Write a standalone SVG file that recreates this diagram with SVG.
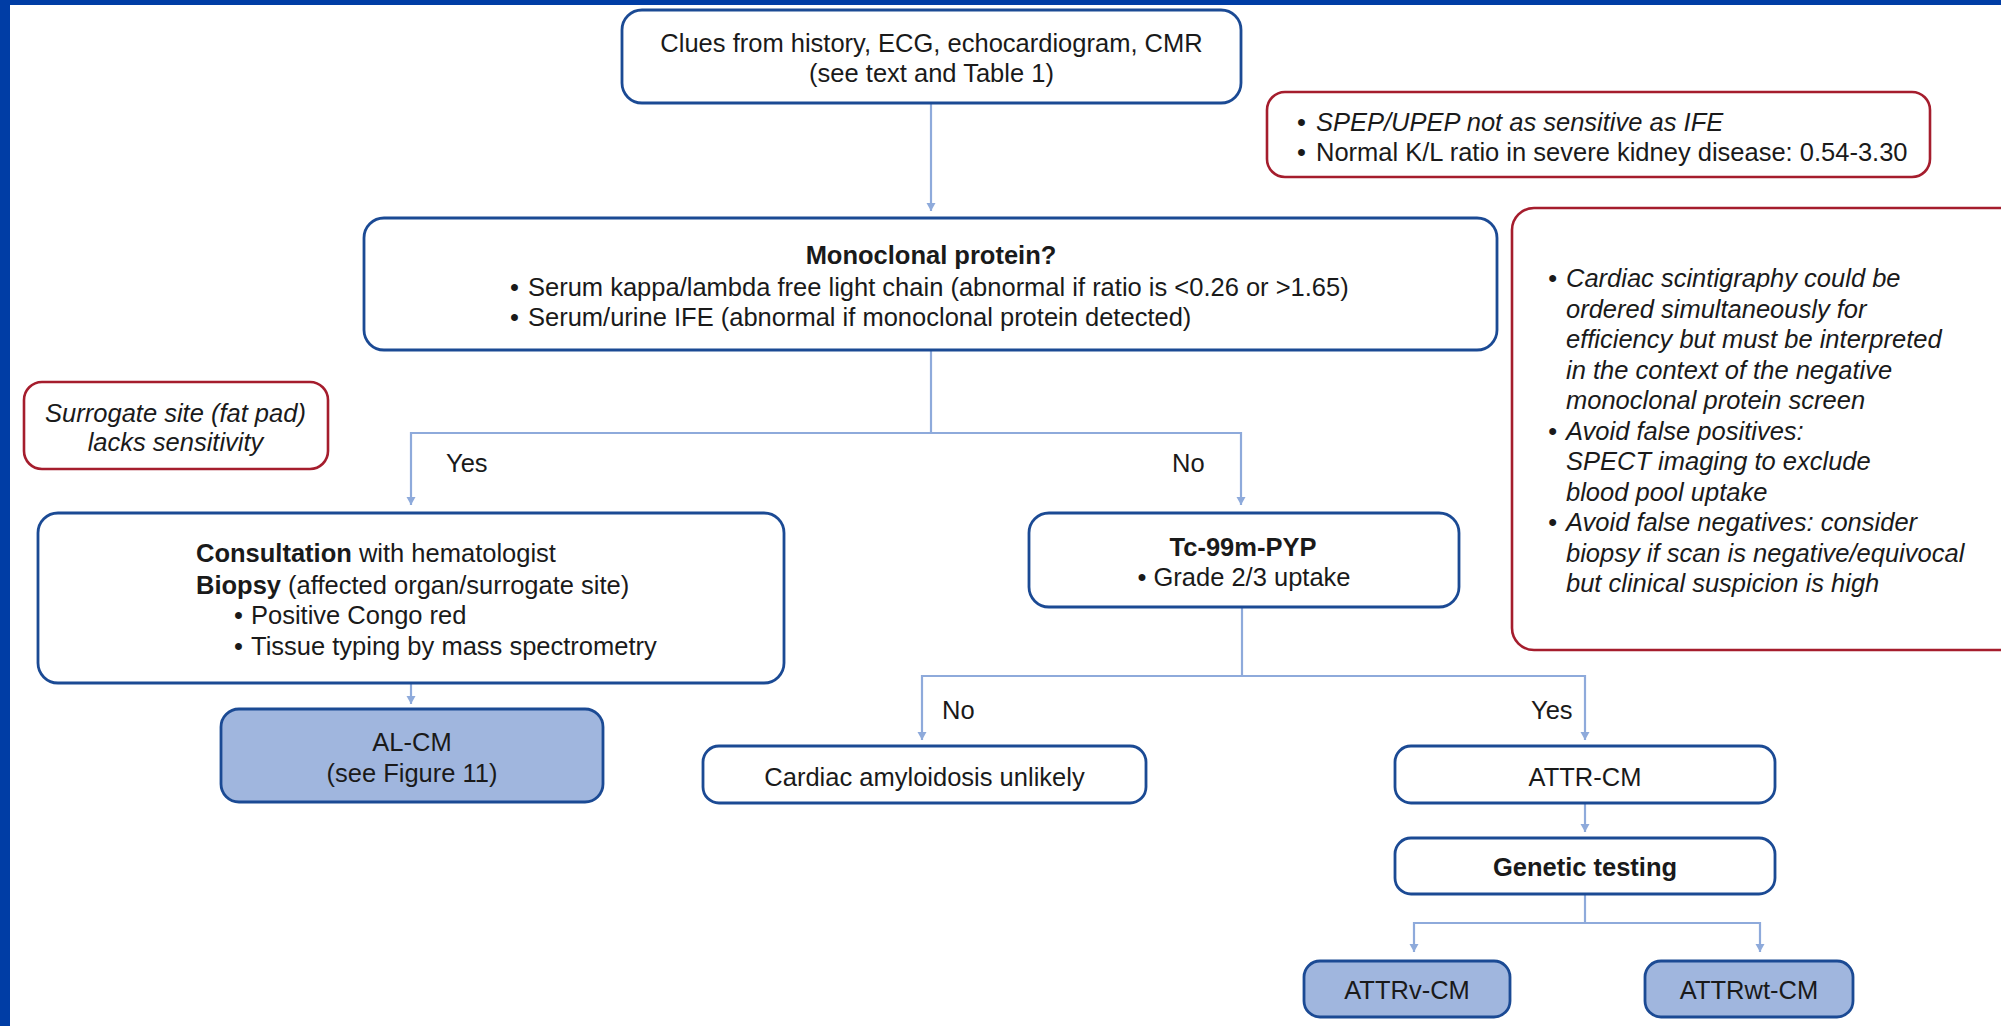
<svg xmlns="http://www.w3.org/2000/svg" width="2001" height="1026" viewBox="0 0 2001 1026">
<style>
  .node { fill: #ffffff; stroke: #1b4a94; stroke-width: 2.8; }
  .fill { fill: #a0b6de; stroke: #1b4a94; stroke-width: 2.8; }
  .note { fill: #ffffff; stroke: #a51d2d; stroke-width: 2.6; }
  .conn { fill: none; stroke: #8eaadb; stroke-width: 2.2; }
  text { font-family: "Liberation Sans", Arial, sans-serif; font-size: 25.5px; fill: #1a1a1a; }
  .c { text-anchor: middle; }
  .b { font-weight: bold; }
  .i { font-style: italic; }
</style>
<defs>
  <marker id="arr" markerUnits="userSpaceOnUse" markerWidth="9" markerHeight="10" refX="8" refY="5" orient="auto">
    <path d="M0,0.5 L8,5 L0,9.5 z" fill="#8eaadb"/>
  </marker>
</defs>
<rect x="0" y="0" width="2001" height="1026" fill="#ffffff"/>
<rect x="0" y="0" width="2001" height="5" fill="#003da5"/>
<rect x="0" y="0" width="10" height="1026" fill="#003da5"/>

<g id="connectors">
  <path class="conn" d="M931,103 V211" marker-end="url(#arr)"/>
  <path class="conn" d="M931,350 V433"/>
  <path class="conn" d="M931,433 H411 V505" marker-end="url(#arr)"/>
  <path class="conn" d="M931,433 H1241 V505" marker-end="url(#arr)"/>
  <path class="conn" d="M411,683 V704" marker-end="url(#arr)"/>
  <path class="conn" d="M1242,607 V676"/>
  <path class="conn" d="M1242,676 H922 V740" marker-end="url(#arr)"/>
  <path class="conn" d="M1242,676 H1585 V740" marker-end="url(#arr)"/>
  <path class="conn" d="M1585,803 V832" marker-end="url(#arr)"/>
  <path class="conn" d="M1585,894 V923"/>
  <path class="conn" d="M1585,923 H1414 V952" marker-end="url(#arr)"/>
  <path class="conn" d="M1585,923 H1760 V952" marker-end="url(#arr)"/>
  <text x="446" y="472">Yes</text>
  <text x="1172" y="472">No</text>
  <text x="942" y="719">No</text>
  <text x="1531" y="719">Yes</text>
</g>

<g id="clues">
  <rect class="node" x="622" y="10" width="619" height="93" rx="20"/>
  <text class="c" x="931.5" y="52">Clues from history, ECG, echocardiogram, CMR</text>
  <text class="c" x="931.5" y="82">(see text and Table 1)</text>
</g>

<g id="note-spep">
  <rect class="note" x="1267" y="92" width="663" height="85" rx="18"/>
  <text x="1297" y="131">•</text>
  <text class="i" x="1316" y="131">SPEP/UPEP not as sensitive as IFE</text>
  <text x="1297" y="161">•</text>
  <text x="1316" y="161">Normal K/L ratio in severe kidney disease: 0.54-3.30</text>
</g>

<g id="monoclonal">
  <rect class="node" x="364" y="218" width="1133" height="132" rx="20"/>
  <text class="c b" x="931" y="264">Monoclonal protein?</text>
  <text x="510" y="296">•</text>
  <text x="528" y="296">Serum kappa/lambda free light chain (abnormal if ratio is &lt;0.26 or &gt;1.65)</text>
  <text x="510" y="326">•</text>
  <text x="528" y="326">Serum/urine IFE (abnormal if monoclonal protein detected)</text>
</g>

<g id="note-scintigraphy">
  <rect class="note" x="1512" y="208" width="520" height="442" rx="22"/>
  <g class="i">
    <text x="1548" y="287" class="i">•</text>
    <text x="1566" y="287" class="i">Cardiac scintigraphy could be</text>
    <text x="1566" y="317.5" class="i">ordered simultaneously for</text>
    <text x="1566" y="348" class="i">efficiency but must be interpreted</text>
    <text x="1566" y="378.5" class="i">in the context of the negative</text>
    <text x="1566" y="409" class="i">monoclonal protein screen</text>
    <text x="1548" y="439.5" class="i">•</text>
    <text x="1566" y="439.5" class="i">Avoid false positives:</text>
    <text x="1566" y="470" class="i">SPECT imaging to exclude</text>
    <text x="1566" y="500.5" class="i">blood pool uptake</text>
    <text x="1548" y="531" class="i">•</text>
    <text x="1566" y="531" class="i">Avoid false negatives: consider</text>
    <text x="1566" y="561.5" class="i">biopsy if scan is negative/equivocal</text>
    <text x="1566" y="592" class="i">but clinical suspicion is high</text>
  </g>
</g>

<g id="note-surrogate">
  <rect class="note" x="24" y="382" width="304" height="87" rx="18"/>
  <text class="c i" x="175.5" y="422">Surrogate site (fat pad)</text>
  <text class="c i" x="175.5" y="451">lacks sensitivity</text>
</g>

<g id="consultation">
  <rect class="node" x="38" y="513" width="746" height="170" rx="20"/>
  <text x="196" y="562"><tspan class="b">Consultation</tspan> with hematologist</text>
  <text x="196" y="594"><tspan class="b">Biopsy</tspan> (affected organ/surrogate site)</text>
  <text x="234" y="624">•</text>
  <text x="251" y="624">Positive Congo red</text>
  <text x="234" y="655">•</text>
  <text x="251" y="655">Tissue typing by mass spectrometry</text>
</g>

<g id="al-cm">
  <rect class="fill" x="221" y="709" width="382" height="93" rx="18"/>
  <text class="c" x="412" y="751">AL-CM</text>
  <text class="c" x="412" y="782">(see Figure 11)</text>
</g>

<g id="tc99m">
  <rect class="node" x="1029" y="513" width="430" height="94" rx="20"/>
  <text class="c b" x="1243" y="556">Tc-99m-PYP</text>
  <text class="c" x="1244" y="586">• Grade 2/3 uptake</text>
</g>

<g id="unlikely">
  <rect class="node" x="703" y="746" width="443" height="57" rx="16"/>
  <text class="c" x="924.5" y="786">Cardiac amyloidosis unlikely</text>
</g>

<g id="attr-cm">
  <rect class="node" x="1395" y="746" width="380" height="57" rx="16"/>
  <text class="c" x="1585" y="786">ATTR-CM</text>
</g>

<g id="genetic">
  <rect class="node" x="1395" y="838" width="380" height="56" rx="16"/>
  <text class="c b" x="1585" y="876">Genetic testing</text>
</g>

<g id="attrv">
  <rect class="fill" x="1304" y="961" width="206" height="56" rx="16"/>
  <text class="c" x="1407" y="999">ATTRv-CM</text>
</g>

<g id="attrwt">
  <rect class="fill" x="1645" y="961" width="208" height="56" rx="16"/>
  <text class="c" x="1749" y="999">ATTRwt-CM</text>
</g>
</svg>
